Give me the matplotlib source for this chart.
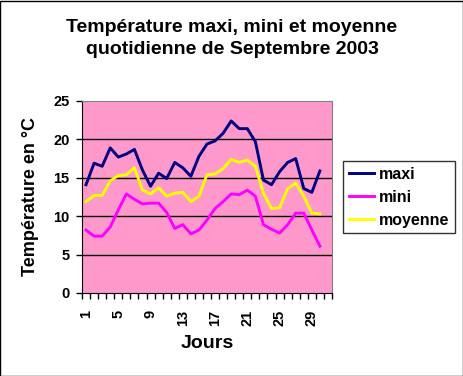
import matplotlib
matplotlib.use('Agg')
import matplotlib.pyplot as plt
from matplotlib.patches import Rectangle
import numpy as np

plt.rcParams['font.family'] = ['Liberation Sans', 'DejaVu Sans']

# Données
jours = list(range(1, 31))
maxi = [14.1, 16.9, 16.5, 18.9, 17.7, 18.1, 18.7, 16.0, 13.9, 15.6,
        14.9, 17.0, 16.3, 15.2, 17.8, 19.4, 19.8, 20.8, 22.4, 21.4,
        21.4, 19.7, 14.7, 14.1, 15.8, 17.0, 17.5, 13.6, 13.1, 15.9]
mini = [8.2, 7.4, 7.4, 8.6, 10.8, 12.9, 12.2, 11.6, 11.7, 11.7,
        10.5, 8.4, 8.9, 7.7, 8.2, 9.5, 11.0, 11.9, 12.9, 12.8,
        13.4, 12.6, 8.9, 8.3, 7.8, 8.9, 10.4, 10.4, 8.2, 6.1]
moyenne = [11.9, 12.7, 12.7, 14.6, 15.3, 15.4, 16.3, 13.4, 12.9, 13.7,
           12.6, 13.0, 13.1, 11.9, 12.6, 15.4, 15.5, 16.2, 17.4, 17.0,
           17.3, 16.5, 13.0, 11.0, 11.1, 13.6, 14.3, 12.6, 10.4, 10.3]
labels_x = [1, 5, 9, 13, 17, 21, 25, 29]
ticks_y = [0, 5, 10, 15, 20, 25]

fig = plt.figure(figsize=(4.64, 3.76), dpi=100)
ax = fig.add_axes([82/464, 83/376, 250/464, 192/376])
ax.set_facecolor('#FF99CC')

# Grille horizontale
for v in ticks_y[1:-1]:
    ax.axhline(v, color='black', linewidth=1, zorder=1)

ax.plot(jours, maxi, color='#000080', linewidth=2.1, label='maxi', zorder=3)
ax.plot(jours, mini, color='#FF00FF', linewidth=2.1, label='mini', zorder=3)
ax.plot(jours, moyenne, color='#FFFF00', linewidth=2.1, label='moyenne', zorder=3)

ax.set_xlim(0.5, 31.5)
ax.set_ylim(0, 25)

ax.set_yticks(ticks_y)
ax.set_yticklabels([str(v) for v in ticks_y], fontsize=10.5, fontweight='bold')
ax.tick_params(axis='y', direction='out', length=4, width=1, pad=5)

# Graduations entre les catégories, étiquettes au centre
ax.set_xticks(np.arange(0.5, 32, 1), minor=True)
ax.set_xticks(labels_x)
ax.set_xticklabels([str(v) for v in labels_x], rotation=90, fontsize=10.5, fontweight='bold')
ax.tick_params(axis='x', which='major', length=0, pad=12)
ax.tick_params(axis='x', which='minor', direction='out', length=4, width=1)

for side in ['top', 'right']:
    ax.spines[side].set_color('#808080')
for side in ['left', 'bottom']:
    ax.spines[side].set_color('black')

ax.set_ylabel('Température en °C', fontsize=13, fontweight='bold')
ax.yaxis.set_label_coords(-0.172, 0.5)
ax.set_xlabel('Jours', fontsize=14, fontweight='bold')
ax.xaxis.set_label_coords(0.5, -0.22)

fig.text(0.5, 1 - 27/376, 'Température maxi, mini et moyenne',
         ha='center', va='center', fontsize=14, fontweight='bold')
fig.text(0.5, 1 - 50/376, 'quotidienne de Septembre 2003',
         ha='center', va='center', fontsize=14, fontweight='bold')

leg = fig.legend(loc='upper left', bbox_to_anchor=(343/464, 1 - 161/376),
                 frameon=True, fancybox=False, edgecolor='black',
                 prop={'size': 11.5, 'weight': 'bold'}, handlelength=1.6,
                 borderpad=0.35, labelspacing=0.5, handletextpad=0.3,
                 borderaxespad=0)
leg.get_frame().set_linewidth(1)

fig.patches.append(Rectangle((0.001, 0.001), 0.997, 0.997, transform=fig.transFigure,
                             fill=False, edgecolor='black', linewidth=1))

fig.savefig('out.png', dpi=100)
